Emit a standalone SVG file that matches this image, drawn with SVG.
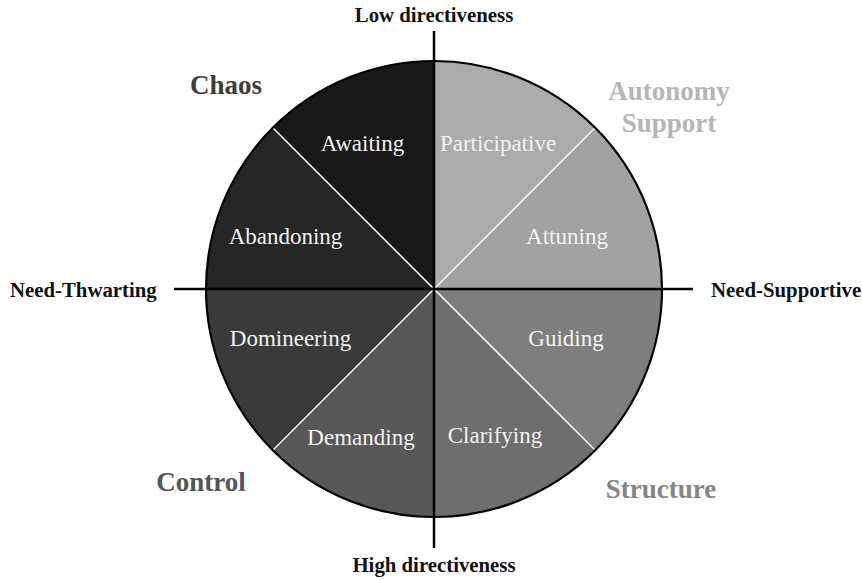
<svg xmlns="http://www.w3.org/2000/svg" width="862" height="580" viewBox="0 0 862 580">
<style>
.seg{stroke:none}
.lbl{font-family:"Liberation Serif","Times New Roman",serif;font-size:23px;fill:#f2f2f2;text-anchor:middle}
.cat{font-family:"Liberation Serif","Times New Roman",serif;font-size:27px;font-weight:bold;text-anchor:middle}
.axis{font-family:"Liberation Serif","Times New Roman",serif;font-size:20.8px;font-weight:bold;fill:#111}
.div{stroke:#f0f0f0;stroke-width:1.6}
.ax{stroke:#000;stroke-width:2.5}
</style>
<rect width="862" height="580" fill="#fff"/>
<g id="awaiting"><path class="seg" d="M434,289 L434,61 A228,228 0 0 0 272.8,127.8 Z" fill="#181818"/><text class="lbl" x="362.5" y="151">Awaiting</text></g>
<g id="participative"><path class="seg" d="M434,289 L434,61 A228,228 0 0 1 595.2,127.8 Z" fill="#ababab"/><text class="lbl" x="498" y="151">Participative</text></g>
<g id="attuning"><path class="seg" d="M434,289 L595.2,127.8 A228,228 0 0 1 662,289 Z" fill="#a2a2a2"/><text class="lbl" x="567" y="244">Attuning</text></g>
<g id="guiding"><path class="seg" d="M434,289 L662,289 A228,228 0 0 1 595.2,450.2 Z" fill="#7e7e7e"/><text class="lbl" x="566" y="346">Guiding</text></g>
<g id="clarifying"><path class="seg" d="M434,289 L595.2,450.2 A228,228 0 0 1 434,517 Z" fill="#6e6e6e"/><text class="lbl" x="495" y="443">Clarifying</text></g>
<g id="demanding"><path class="seg" d="M434,289 L434,517 A228,228 0 0 1 272.8,450.2 Z" fill="#585858"/><text class="lbl" x="361" y="445">Demanding</text></g>
<g id="domineering"><path class="seg" d="M434,289 L272.8,450.2 A228,228 0 0 1 206,289 Z" fill="#3a3a3a"/><text class="lbl" x="290.5" y="346">Domineering</text></g>
<g id="abandoning"><path class="seg" d="M434,289 L206,289 A228,228 0 0 1 272.8,127.8 Z" fill="#262626"/><text class="lbl" x="285.5" y="244">Abandoning</text></g>
<g id="connectors">
<line class="div" x1="272.8" y1="127.8" x2="595.2" y2="450.2"/>
<line class="div" x1="595.2" y1="127.8" x2="272.8" y2="450.2"/>
<circle cx="434" cy="289" r="228" fill="none" stroke="#000" stroke-width="2.2"/>
<line class="ax" x1="434" y1="31" x2="434" y2="548"/>
<line class="ax" x1="174" y1="289" x2="693" y2="289"/>
</g>
<g id="categories">
<text class="cat" x="226" y="94" fill="#3c3c3c">Chaos</text>
<text class="cat" x="669" y="100" fill="#b6b6b6">Autonomy</text>
<text class="cat" x="669" y="132" fill="#b6b6b6">Support</text>
<text class="cat" x="201" y="491" fill="#555555">Control</text>
<text class="cat" x="661" y="498" fill="#858585">Structure</text>
</g>
<g id="axes-labels">
<text class="axis" x="434" y="22" text-anchor="middle">Low directiveness</text>
<text class="axis" x="434" y="572" text-anchor="middle">High directiveness</text>
<text class="axis" x="10" y="297">Need-Thwarting</text>
<text class="axis" x="711" y="297">Need-Supportive</text>
</g>
</svg>
